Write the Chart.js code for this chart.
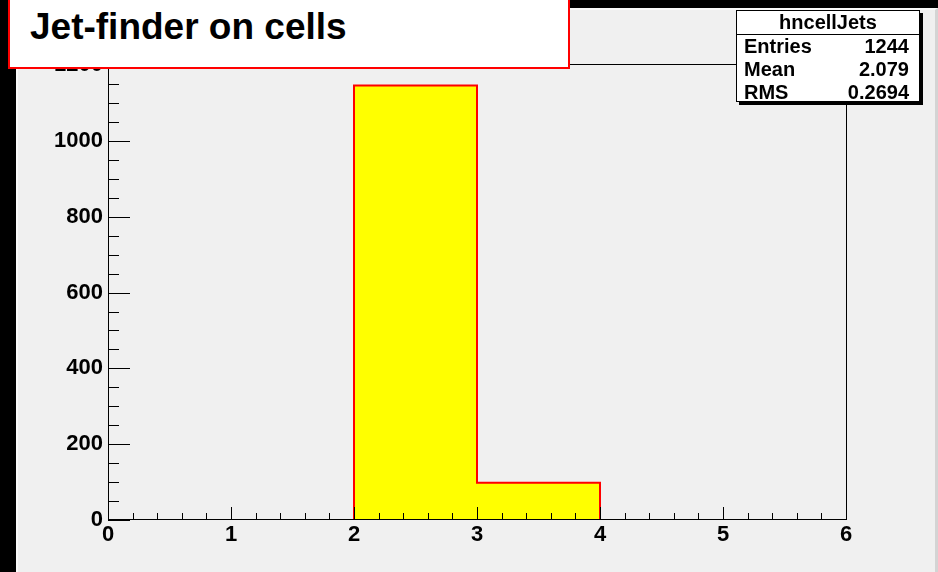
<!DOCTYPE html>
<html>
<head>
<meta charset="utf-8">
<title>hncellJets</title>
<script src="https://cdn.jsdelivr.net/npm/chart.js@4.4.1/dist/chart.umd.min.js"></script>
<style>
  html, body { margin: 0; padding: 0; background: #000; }
  body { position: relative; width: 938px; height: 572px; overflow: hidden; font-family: "Liberation Sans", Arial, sans-serif; }
  #pad { position: absolute; left: 16px; top: 8px; width: 922px; height: 564px; box-sizing: border-box;
         background: #f0f0f0; border-left: 2px solid #fafafa; border-top: 2px solid #fafafa;
         border-right: 3px solid #d4d4d4; }
  #histo { position: absolute; left: 0; top: 0; }
  #titleBox { position: absolute; left: 8px; top: -4px; width: 562px; height: 73px; box-sizing: border-box;
              border: 2px solid #ff0000; background: #fff; }
  #titleBox span { position: absolute; left: 20px; top: 10px; font: bold 37px/37px "Liberation Sans", Arial, sans-serif; color: #000; white-space: nowrap; }
  #statsBox { position: absolute; left: 736px; top: 10px; width: 184px; height: 92px; box-sizing: border-box;
              border: 1px solid #000; background: #fff; box-shadow: 3px 3px 0 #000;
              display: flex; flex-direction: column; font: bold 20px "Liberation Sans", Arial, sans-serif; color: #000; }
  #statsBox .row { flex: 1; display: flex; align-items: center; justify-content: space-between; padding: 0 10px 0 7px; }
  #statsBox .head { justify-content: center; border-bottom: 1px solid #000; padding: 0; }
</style>
</head>
<body>
<div id="pad"></div>
<canvas id="histo" width="938" height="572"></canvas>
<div id="titleBox"><span id="titleText"></span></div>
<div id="statsBox"></div>
<script>
// histogram contents (one entry per bin)
const binEdges = [0, 1, 2, 3, 4, 5, 6];
const binCounts = [0, 0, 1146, 98, 0, 0];

// axis labelling
const xTickValues = [0, 1, 2, 3, 4, 5, 6];
const yTickValues = [0, 200, 400, 600, 800, 1000, 1200];
const yMax = 1203;

// stats panel
const histName = "hncellJets";
const histTitle = "Jet-finder on cells";
const statLabels = ["Entries", "Mean", "RMS"];
const statValues = ["1244", "2.079", "0.2694"];

document.getElementById("titleText").textContent = histTitle;

const statsBox = document.getElementById("statsBox");
const head = document.createElement("div");
head.className = "row head";
head.textContent = histName;
statsBox.appendChild(head);
statLabels.forEach((lab, i) => {
  const row = document.createElement("div");
  row.className = "row";
  const l = document.createElement("span");
  l.textContent = lab;
  const v = document.createElement("span");
  v.textContent = statValues[i];
  row.appendChild(l);
  row.appendChild(v);
  statsBox.appendChild(row);
});

// step outline: each edge carries the count of the bin that starts there
const stepPoints = binEdges.map((x, i) => ({ x, y: binCounts[Math.min(i, binCounts.length - 1)] }));

const tickFont = { family: '"Liberation Sans", Arial, sans-serif', size: 22, weight: "bold" };

// ROOT style frame with ticks pointing into the pad
const frameAxes = {
  id: "frameAxes",
  afterDatasetsDraw(chart) {
    const { ctx, chartArea: a, scales: { x, y } } = chart;
    ctx.save();
    ctx.strokeStyle = "#000";
    ctx.lineWidth = 1;
    ctx.beginPath();
    ctx.rect(a.left + 0.5, a.top + 0.5, a.right - a.left, a.bottom - a.top - 1);

    for (let v = 0; v <= yMax; v += 50) {
      const py = Math.round(y.getPixelForValue(v)) + 0.5;
      const len = v % 200 === 0 ? 22 : 11;
      ctx.moveTo(a.left, py);
      ctx.lineTo(a.left + len, py);
    }
    for (let k = 0; k <= 30; k++) {
      const px = Math.round(x.getPixelForValue(k * 0.2)) + 0.5;
      const len = k % 5 === 0 ? 13 : 7;
      ctx.moveTo(px, a.bottom);
      ctx.lineTo(px, a.bottom - len);
    }
    ctx.stroke();
    ctx.restore();
  }
};

new Chart(document.getElementById("histo"), {
  type: "line",
  data: {
    datasets: [{
      label: histName,
      data: stepPoints,
      stepped: "before",
      borderColor: "#ff0000",
      borderWidth: 2,
      backgroundColor: "#ffff00",
      fill: "origin",
      pointRadius: 0
    }]
  },
  options: {
    responsive: false,
    animation: false,
    layout: { padding: { top: 64, right: 92, left: 0, bottom: 0 } },
    plugins: { legend: { display: false }, tooltip: { enabled: false } },
    scales: {
      x: {
        type: "linear",
        min: 0,
        max: 6,
        afterBuildTicks: s => { s.ticks = xTickValues.map(v => ({ value: v })); },
        afterFit: s => { s.height = 52; },
        grid: { display: false, drawTicks: false },
        border: { display: false },
        ticks: { font: tickFont, color: "#000", padding: 2, maxRotation: 0, autoSkip: false, callback: v => String(v) }
      },
      y: {
        type: "linear",
        min: 0,
        max: yMax,
        afterBuildTicks: s => { s.ticks = yTickValues.map(v => ({ value: v })); },
        afterFit: s => { s.width = 108; },
        grid: { display: false, drawTicks: false },
        border: { display: false },
        ticks: { font: tickFont, color: "#000", padding: 5, autoSkip: false, callback: v => String(v) }
      }
    }
  },
  plugins: [frameAxes]
});
</script>
</body>
</html>
